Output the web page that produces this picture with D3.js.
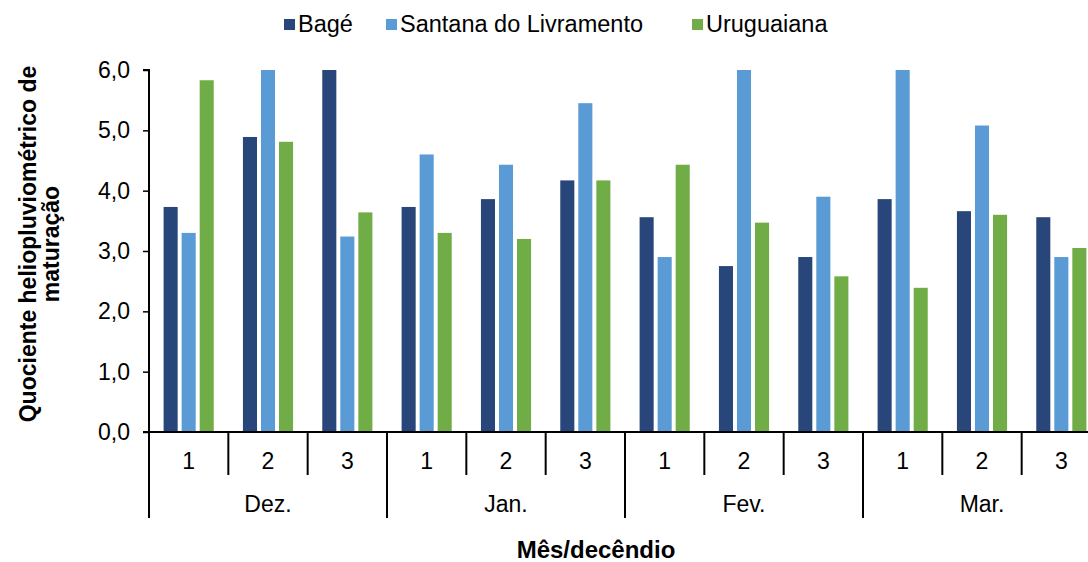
<!DOCTYPE html>
<html>
<head>
    <meta charset="utf-8">
    <style>
        body { margin: 0; background: #fff; }
        text { font-family: "Liberation Sans", Arial, sans-serif; fill: #000; }
    </style>
</head>
<body>
    <svg width="1088" height="562"></svg>
    <script src="https://d3js.org/d3.v7.min.js"></script>
    <script>
        // data
        let months = ["Dez.", "Jan.", "Fev.", "Mar."];
        let decendios = ["1", "2", "3"];
        let series = ["Bagé", "Santana do Livramento", "Uruguaiana"];
        let colors = ["#284679", "#5b9bd5", "#70ad47"];
        let bage = [3.73, 4.89, 6.0, 3.73, 3.86, 4.17, 3.56, 2.75, 2.90, 3.86, 3.66, 3.56];
        let santana = [3.30, 6.0, 3.24, 4.60, 4.43, 5.45, 2.90, 6.0, 3.90, 6.0, 5.08, 2.90];
        let uruguaiana = [5.83, 4.81, 3.64, 3.30, 3.20, 4.17, 4.43, 3.47, 2.58, 2.39, 3.60, 3.05];
        let yTicks = [0, 1, 2, 3, 4, 5, 6];

        let values = [bage, santana, uruguaiana];
        let slots = months.flatMap(m => decendios.map(d => m + "|" + d));
        let rows = [];
        slots.forEach((s, i) => series.forEach((name, j) => rows.push({slot: s, name: name, v: values[j][i]})));

        let svg = d3.select("svg");
        let plotL = 149, plotR = 1101, plotT = 70, plotB = 432;
        let fs = "23px";

        let x = d3.scaleBand().domain(slots).range([plotL, plotR]);
        let bw = x.bandwidth();
        let x1 = d3.scaleBand().domain(series).range([14.6, bw - 14.6]).paddingInner(0.22);
        let y = d3.scaleLinear().domain([0, 6]).range([plotB, plotT]);
        let color = d3.scaleOrdinal().domain(series).range(colors);

        // bars
        svg.append("g")
            .selectAll("rect")
            .data(rows)
            .enter()
            .append("rect")
            .attr("x", d => x(d.slot) + x1(d.name))
            .attr("width", x1.bandwidth())
            .attr("y", d => y(d.v))
            .attr("height", d => y(0) - y(d.v))
            .attr("fill", d => color(d.name));

        // y axis
        let yAxis = svg.append("g")
            .attr("transform", `translate(${plotL},0)`)
            .call(d3.axisLeft(y).tickValues(yTicks).tickSize(6).tickPadding(13)
                .tickFormat(d => d3.format(".1f")(d).replace(".", ",")));
        yAxis.select(".domain").attr("stroke", "#000").attr("stroke-width", 2).attr("d", `M-6,${plotT}H0V${plotB}H-6`);
        yAxis.selectAll(".tick line").attr("stroke", "#000").attr("stroke-width", 1.5);
        yAxis.selectAll("text").style("font-size", fs).attr("font-family", null);

        // x axis baseline
        svg.append("line")
            .attr("x1", plotL).attr("x2", plotR)
            .attr("y1", plotB).attr("y2", plotB)
            .attr("stroke", "#000").attr("stroke-width", 2);

        // dividers between decêndios and months
        let bounds = d3.range(slots.length + 1).map(i => plotL + i * bw);
        svg.append("g")
            .selectAll("line")
            .data(bounds)
            .enter()
            .append("line")
            .attr("x1", d => d).attr("x2", d => d)
            .attr("y1", plotB)
            .attr("y2", (d, i) => i % 3 === 0 ? 518 : 475)
            .attr("stroke", "#000").attr("stroke-width", 2);

        svg.append("g")
            .selectAll("text")
            .data(slots)
            .enter()
            .append("text")
            .attr("x", d => x(d) + bw / 2)
            .attr("y", 469)
            .attr("text-anchor", "middle")
            .style("font-size", fs)
            .text(d => d.split("|")[1]);

        svg.append("g")
            .selectAll("text")
            .data(months)
            .enter()
            .append("text")
            .attr("x", d => x(d + "|2") + bw / 2)
            .attr("y", 512)
            .attr("text-anchor", "middle")
            .style("font-size", fs)
            .text(d => d);

        // axis titles
        svg.append("text")
            .attr("x", 596).attr("y", 558)
            .attr("text-anchor", "middle")
            .style("font-size", "24px").style("font-weight", "bold")
            .text("Mês/decêndio");

        let yt = svg.append("text")
            .attr("transform", "translate(0,244) rotate(-90)")
            .attr("text-anchor", "middle")
            .style("font-size", fs).style("font-weight", "bold");
        yt.append("tspan").attr("x", 0).attr("y", 36).text("Quociente heliopluviométrico de");
        yt.append("tspan").attr("x", 0).attr("y", 59).text("maturação");

        // legend
        let legendX = [284, 386, 692];
        let lg = svg.append("g")
            .selectAll("g")
            .data(series)
            .enter()
            .append("g")
            .attr("transform", (d, i) => `translate(${legendX[i]},0)`);
        lg.append("rect")
            .attr("x", 0).attr("y", 19)
            .attr("width", 11).attr("height", 11)
            .attr("fill", d => color(d));
        lg.append("text")
            .attr("x", 14).attr("y", 32)
            .style("font-size", "23.5px")
            .text(d => d);
    </script>
</body>
</html>
